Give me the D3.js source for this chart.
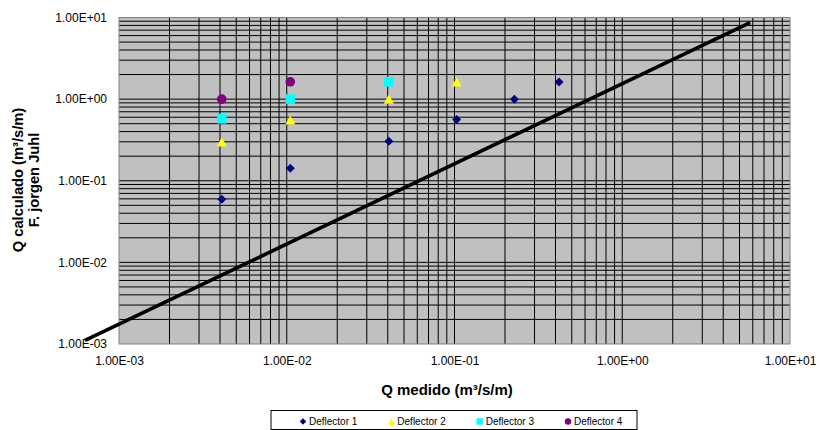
<!DOCTYPE html>
<html>
<head>
<meta charset="utf-8">
<script src="https://cdn.jsdelivr.net/npm/d3@7"></script>
<style>
  html, body { margin: 0; padding: 0; background: #fff; }
  svg { display: block; font-family: "Liberation Sans", Arial, sans-serif; }
</style>
</head>
<body>
<svg id="chart" width="820" height="430"></svg>
<script>
// Measured discharge (x) vs. discharge computed with F. Jorgen Juhl (y), m3/s/m
const deflector1X = [0.0041, 0.0105, 0.0406, 0.103, 0.2275, 0.42];
const deflector1Y = [0.0593, 0.142, 0.304, 0.562, 1.0, 1.62];

const deflector2X = [0.0041, 0.0105, 0.0406, 0.103];
const deflector2Y = [0.30, 0.555, 1.0, 1.62];

const deflector3X = [0.0041, 0.0105, 0.0406];
const deflector3Y = [0.574, 1.0, 1.63];

const deflector4X = [0.0041, 0.0105];
const deflector4Y = [1.0, 1.63];

// Reference trend line (two end points)
const trendX = [0.000627, 5.78];
const trendY = [0.001104, 8.68];

const axisTicks = [1e-3, 1e-2, 1e-1, 1e0, 1e1];
const seriesNames = ["Deflector 1", "Deflector 2", "Deflector 3", "Deflector 4"];

const svg = d3.select("#chart");
const plotLeft = 119, plotRight = 790, plotTop = 17.5, plotBottom = 344;

const x = d3.scaleLog().domain([1e-3, 1e1]).range([plotLeft, plotRight]);
const y = d3.scaleLog().domain([1e-3, 1e1]).range([plotBottom, plotTop]);

// Plot background
svg.append("rect")
  .attr("x", plotLeft).attr("y", plotTop)
  .attr("width", plotRight - plotLeft).attr("height", plotBottom - plotTop)
  .attr("fill", "#c0c0c0");

// Log grid: every integer multiple within each decade
const gridVals = [];
for (let e = -3; e < 1; e++) {
  for (let k = 1; k <= 9; k++) gridVals.push(k * Math.pow(10, e));
}
const innerGrid = gridVals.filter(v => v > 1e-3 && v < 1e1);

const grid = svg.append("g").attr("stroke", "#000").attr("stroke-width", 1);
grid.selectAll("line.v").data(innerGrid).join("line")
  .attr("class", "v")
  .attr("x1", d => x(d)).attr("x2", d => x(d))
  .attr("y1", plotTop).attr("y2", plotBottom);
grid.selectAll("line.h").data(innerGrid).join("line")
  .attr("class", "h")
  .attr("y1", d => y(d)).attr("y2", d => y(d))
  .attr("x1", plotLeft).attr("x2", plotRight);

// Plot frame
svg.append("rect")
  .attr("x", plotLeft).attr("y", plotTop)
  .attr("width", plotRight - plotLeft).attr("height", plotBottom - plotTop)
  .attr("fill", "none").attr("stroke", "#808080").attr("stroke-width", 1);

// Tick labels in Excel-style scientific notation
const fmt = v => {
  const e = Math.round(Math.log10(v));
  const sign = e < 0 ? "-" : "+";
  const mag = String(Math.abs(e)).padStart(2, "0");
  return (v / Math.pow(10, e)).toFixed(2) + "E" + sign + mag;
};

const yAxis = svg.append("g")
  .attr("transform", `translate(${plotLeft},0)`)
  .call(d3.axisLeft(y).tickValues(axisTicks).tickFormat(fmt).tickSize(0).tickPadding(12));
yAxis.select(".domain").remove();
yAxis.selectAll("text").attr("font-size", 12).attr("fill", "#000")
  .attr("font-family", "Liberation Sans, Arial, sans-serif");

const xAxis = svg.append("g")
  .attr("transform", `translate(0,${plotBottom})`)
  .call(d3.axisBottom(x).tickValues(axisTicks).tickFormat(fmt).tickSize(0).tickPadding(12));
xAxis.select(".domain").remove();
xAxis.selectAll("text").attr("font-size", 12).attr("fill", "#000")
  .attr("font-family", "Liberation Sans, Arial, sans-serif");

// Axis titles
svg.append("text")
  .attr("x", 447).attr("y", 395)
  .attr("text-anchor", "middle")
  .attr("font-size", 15).attr("font-weight", "bold")
  .text("Q medido (m³/s/m)");

const yTitle = svg.append("text")
  .attr("transform", "translate(0,180) rotate(-90)")
  .attr("text-anchor", "middle")
  .attr("font-size", 14.7).attr("font-weight", "bold");
yTitle.append("tspan").attr("x", 0).attr("y", 23).text("Q calculado (m³/s/m)");
yTitle.append("tspan").attr("x", 0).attr("y", 39).text("F. jorgen Juhl");

// Trend line
const line = d3.line().x(d => x(d[0])).y(d => y(d[1]));
svg.append("path")
  .datum(d3.zip(trendX, trendY))
  .attr("d", line)
  .attr("fill", "none").attr("stroke", "#000").attr("stroke-width", 3.6);

// Marker shapes, centred on their bounding box
const shapes = {
  diamond: s => `M0,${-s}L${s},0L0,${s}L${-s},0Z`,
  triangle: s => `M0,${-s}L${s * 1.1},${s}L${-s * 1.1},${s}Z`,
  square: s => `M${-s},${-s}H${s}V${s}H${-s}Z`,
  circle: s => `M${s},0A${s},${s} 0 1,1 ${-s},0A${s},${s} 0 1,1 ${s},0Z`
};

const series = [
  { name: seriesNames[0], xs: deflector1X, ys: deflector1Y, shape: "diamond", color: "#000080", size: 4.5 },
  { name: seriesNames[1], xs: deflector2X, ys: deflector2Y, shape: "triangle", color: "#ffff00", size: 4.6 },
  { name: seriesNames[2], xs: deflector3X, ys: deflector3Y, shape: "square", color: "#00ffff", size: 4.8 },
  { name: seriesNames[3], xs: deflector4X, ys: deflector4Y, shape: "circle", color: "#800080", size: 4.8 }
];

series.forEach(s => {
  svg.append("g").selectAll("path")
    .data(d3.zip(s.xs, s.ys))
    .join("path")
    .attr("transform", d => `translate(${x(d[0])},${y(d[1])})`)
    .attr("d", shapes[s.shape](s.size))
    .attr("fill", s.color);
});

// Legend
const legend = svg.append("g");
legend.append("rect")
  .attr("x", 271).attr("y", 410.5)
  .attr("width", 366).attr("height", 19)
  .attr("fill", "#fff").attr("stroke", "#000").attr("stroke-width", 1);

const legendX = d3.scalePoint().domain(seriesNames).range([303, 568]);
const items = legend.selectAll("g.item").data(series).join("g")
  .attr("class", "item")
  .attr("transform", d => `translate(${legendX(d.name)},421.5)`);
items.append("path")
  .attr("d", d => shapes[d.shape](d.shape === "diamond" ? 3.3 : 3.2))
  .attr("fill", d => d.color);
items.append("text")
  .attr("x", 6).attr("y", 3.6)
  .attr("font-size", 10).attr("fill", "#000")
  .text(d => d.name);
</script>
</body>
</html>
